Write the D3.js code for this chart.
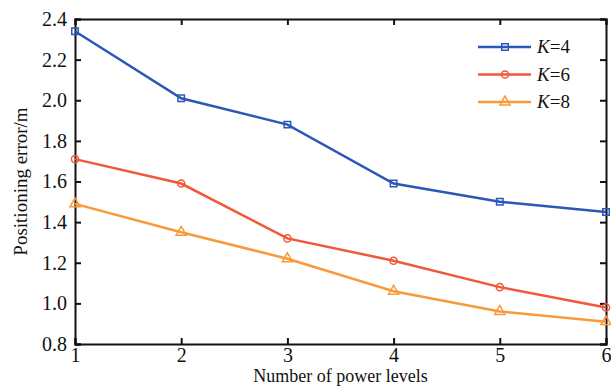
<!DOCTYPE html>
<html><head><meta charset="utf-8">
<script src="https://cdn.jsdelivr.net/npm/d3@7"></script>
<style>body{margin:0;background:#fff}svg{display:block}text{font-family:"Liberation Serif","Times New Roman",serif;fill:#111}</style>
</head><body>
<script>
const levels = [1, 2, 3, 4, 5, 6];
const k4 = [2.34, 2.01, 1.88, 1.59, 1.50, 1.45];
const k6 = [1.71, 1.59, 1.32, 1.21, 1.08, 0.98];
const k8 = [1.49, 1.35, 1.22, 1.06, 0.96, 0.91];
const seriesNames = ["4", "6", "8"];
const yTicks = [0.8, 1.0, 1.2, 1.4, 1.6, 1.8, 2.0, 2.2, 2.4];
const xTicks = [1, 2, 3, 4, 5, 6];

(function () {
const W = 611, H = 387;
const m = {l: 75, r: 5, t: 19, b: 43};
const svg = d3.select("body").append("svg").attr("width", W).attr("height", H);
const x = d3.scaleLinear().domain([1, 6]).range([m.l, W - m.r]);
const y = d3.scaleLinear().domain([0.8, 2.4]).range([H - m.b, m.t]);

const series = [
  {name: seriesNames[0], vals: k4, color: "#2b58b6", marker: "square"},
  {name: seriesNames[1], vals: k6, color: "#f0583a", marker: "circle"},
  {name: seriesNames[2], vals: k8, color: "#f99a3a", marker: "triangle"}
];

const fmt = d3.format(".1f");
const gBottom = svg.append("g").attr("transform", `translate(0,${H - m.b})`)
  .call(d3.axisBottom(x).tickValues(xTicks).tickSize(-6).tickPadding(4).tickFormat(d3.format("d")));
const gTop = svg.append("g").attr("transform", `translate(0,${m.t})`)
  .call(d3.axisTop(x).tickValues(xTicks).tickSize(-6).tickFormat(""));
const gLeft = svg.append("g").attr("transform", `translate(${m.l},0)`)
  .call(d3.axisLeft(y).tickValues(yTicks).tickSize(-6).tickPadding(8).tickFormat(fmt));
const gRight = svg.append("g").attr("transform", `translate(${W - m.r},0)`)
  .call(d3.axisRight(y).tickValues(yTicks).tickSize(-6).tickFormat(""));
[gBottom, gTop, gLeft, gRight].forEach(g => {
  g.attr("font-family", "Liberation Serif").attr("font-size", 20);
  g.select(".domain").attr("stroke", "#111").attr("stroke-width", 2);
  g.selectAll(".tick line").attr("stroke", "#111").attr("stroke-width", 2);
  g.selectAll(".tick text").attr("fill", "#111").attr("font-family", "Liberation Serif").attr("font-size", 20);
});

const line = d3.line().x((d, i) => x(levels[i])).y(d => y(d));
const sym = {square: d3.symbolSquare, circle: d3.symbolCircle, triangle: d3.symbolTriangle};
const symSize = {square: 42, circle: 40, triangle: 45};
function marker(g, type, color, cx, cy) {
  g.append("path").attr("d", d3.symbol().type(sym[type]).size(symSize[type])())
    .attr("transform", `translate(${cx},${cy})`)
    .attr("fill", "none").attr("stroke", color).attr("stroke-width", 1.5);
}
series.forEach(s => {
  svg.append("path").datum(s.vals).attr("d", line)
    .attr("fill", "none").attr("stroke", s.color).attr("stroke-width", 2.5);
  const g = svg.append("g");
  s.vals.forEach((v, i) => marker(g, s.marker, s.color, x(levels[i]), y(v)));
});

const lg = svg.append("g");
series.forEach((s, i) => {
  const ly = 47 + i * 27.5;
  lg.append("line").attr("x1", 478).attr("x2", 531).attr("y1", ly).attr("y2", ly)
    .attr("stroke", s.color).attr("stroke-width", 2.5);
  marker(lg, s.marker, s.color, 505, ly);
  const t = lg.append("text").attr("x", 537).attr("y", ly + 6).style("font-size", "19px");
  t.append("tspan").style("font-style", "italic").text("K");
  t.append("tspan").text("=" + s.name);
});

svg.append("text").attr("x", (m.l + W - m.r) / 2).attr("y", 382).attr("text-anchor", "middle")
  .style("font-size", "18px").text("Number of power levels");
svg.append("text").attr("transform", `translate(27,${(m.t + H - m.b) / 2}) rotate(-90)`)
  .attr("text-anchor", "middle").style("font-size", "19px").text("Positioning error/m");
})();
</script>
</body></html>
